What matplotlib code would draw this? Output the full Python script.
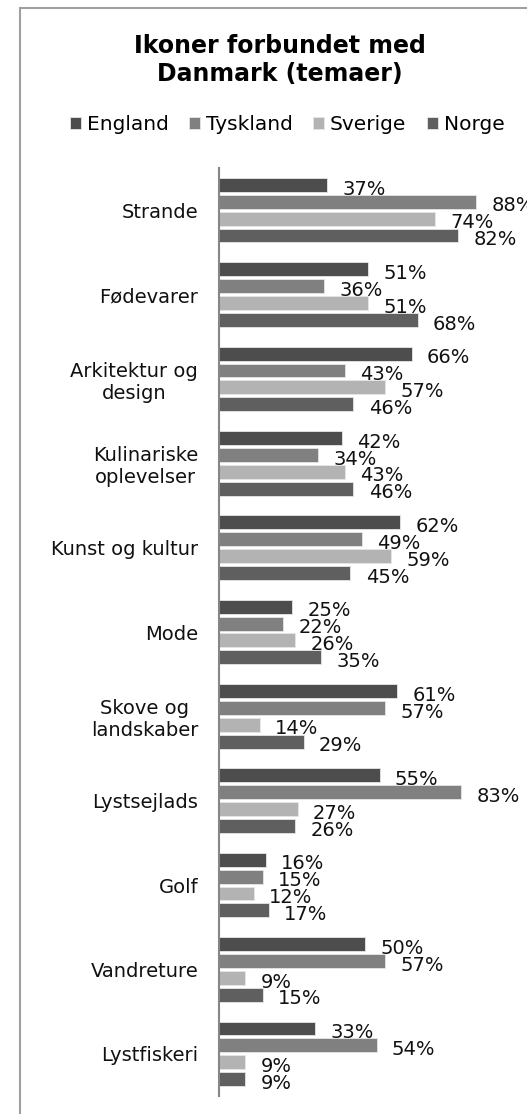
import matplotlib
matplotlib.use("Agg")
import matplotlib.pyplot as plt
from matplotlib.patches import Rectangle
import numpy as np

categories = ["Strande", "Fødevarer", "Arkitektur og\ndesign", "Kulinariske\noplevelser",
              "Kunst og kultur", "Mode", "Skove og\nlandskaber", "Lystsejlads", "Golf",
              "Vandreture", "Lystfiskeri"]
england = [37, 51, 66, 42, 62, 25, 61, 55, 16, 50, 33]
tyskland = [88, 36, 43, 34, 49, 22, 57, 83, 15, 57, 54]
sverige = [74, 51, 57, 43, 59, 26, 14, 27, 12, 9, 9]
norge = [82, 68, 46, 46, 45, 35, 29, 26, 17, 15, 9]

series = [("England", england, "#4d4d4d"),
          ("Tyskland", tyskland, "#808080"),
          ("Sverige", sverige, "#b3b3b3"),
          ("Norge", norge, "#5f5f5f")]

W, H = 527, 1114
fig = plt.figure(figsize=(W / 100, H / 100), dpi=100)

# outer chart frame (runs off the right and bottom edge)
fig.patches.append(Rectangle((20 / W, -0.05), 1.0, 1 - 8 / H + 0.05, transform=fig.transFigure,
                             fill=False, edgecolor="#a0a0a0", linewidth=1.5))

ax = fig.add_axes([219 / W, 1 - 1096 / H, 292 / W, (1096 - 168) / H])

y = np.arange(len(categories))
bh = 0.2
for i, (name, vals, col) in enumerate(series):
    pos = y + (i - 1.5) * bh
    ax.barh(pos, vals, height=0.165, color=col, edgecolor="#e6e6e6", linewidth=0.6, label=name)
    for p, v in zip(pos, vals):
        ax.annotate(f"{v}%", (v, p), xytext=(11, -3), textcoords="offset points",
                    ha="left", va="center", fontsize=14, color="#111111",
                    annotation_clip=False)

ax.set_xlim(0, 100)
ax.set_ylim(len(categories) - 0.5, -0.5)
ax.set_yticks(y)
ax.set_yticklabels(categories, fontsize=14, multialignment="center", color="#111111")
ax.tick_params(axis="y", length=0, pad=15)
ax.set_xticks([])
for s in ["top", "right", "bottom"]:
    ax.spines[s].set_visible(False)
ax.spines["left"].set_color("#868686")
ax.spines["left"].set_linewidth(1.5)

fig.text(280 / W, 1 - 60 / H, "Ikoner forbundet med\nDanmark (temaer)", ha="center", va="center",
         fontsize=17, fontweight="bold", linespacing=1.25)

handles, labels = ax.get_legend_handles_labels()
fig.legend(handles, labels, loc="center", bbox_to_anchor=(287 / W, 1 - 125 / H), ncol=4,
           frameon=False, fontsize=14.5, handlelength=0.55, handleheight=0.55,
           handletextpad=0.3, columnspacing=1.0)

fig.savefig("out.png", dpi=100)
